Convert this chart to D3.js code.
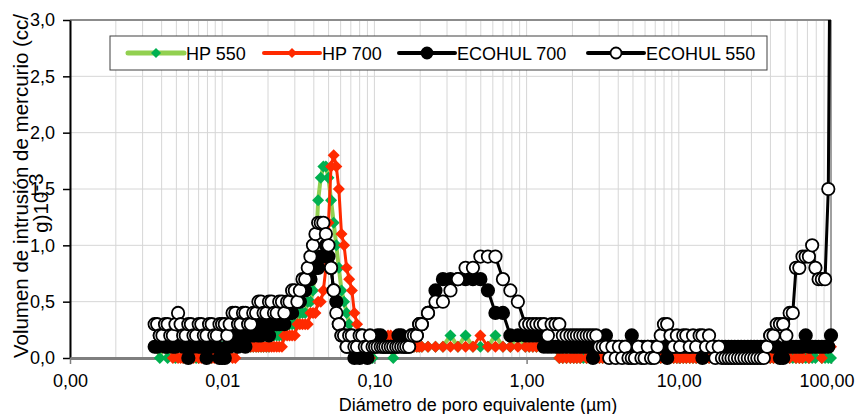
<!DOCTYPE html>
<html>
<head>
<meta charset="utf-8">
<script src="https://cdn.jsdelivr.net/npm/d3@7"></script>
<style>
  body { margin: 0; background: #fff; }
  svg text { font-family: "Liberation Sans", Arial, sans-serif; fill: #000; }
</style>
</head>
<body>
<div id="chart"></div>
<script>
// Pore diameters (µm), shared by all four samples
const diameters = [
    0.0036, 0.00374, 0.00389, 0.00405, 0.00421, 0.00438, 0.00456, 0.00474, 0.00493, 0.00513,
    0.00533, 0.00554, 0.00576, 0.00599, 0.00623, 0.00648, 0.00674, 0.00701, 0.00729, 0.00758,
    0.00789, 0.00820, 0.00853, 0.00887, 0.00923, 0.00960, 0.00998,
    0.0104, 0.0108, 0.0112, 0.0117, 0.0122, 0.0127, 0.0132, 0.0137, 0.0142, 0.0148,
    0.0154, 0.0160, 0.0167, 0.0173, 0.0180, 0.0187, 0.0195, 0.0203, 0.0211, 0.0219,
    0.0228, 0.0237, 0.0247, 0.0256, 0.0267, 0.0277, 0.0288, 0.0300, 0.0312, 0.0324,
    0.0337, 0.0351, 0.0365, 0.0380, 0.0395, 0.0410, 0.0427, 0.0444, 0.0462, 0.0480,
    0.0499, 0.0519, 0.0540, 0.0562, 0.0584, 0.0608, 0.0632, 0.0657, 0.0683, 0.0711,
    0.0739, 0.0769, 0.0800, 0.0832, 0.0865, 0.0900, 0.0936, 0.0973,
    0.101, 0.105, 0.110, 0.114, 0.118, 0.123, 0.128, 0.133, 0.139, 0.144,
    0.150, 0.156, 0.162, 0.169, 0.175, 0.182, 0.190, 0.197, 0.205,
    0.225, 0.252, 0.282, 0.316, 0.354, 0.397, 0.444, 0.497, 0.557, 0.624,
    0.699, 0.782, 0.876, 0.981,
    1.04, 1.10, 1.16, 1.23, 1.30, 1.38, 1.46, 1.55, 1.64, 1.73, 1.83, 1.94,
    2.04, 2.14, 2.25, 2.36, 2.48, 2.60, 2.73, 2.87, 3.01, 3.16,
    3.32, 3.49, 3.66, 3.85, 4.04, 4.24, 4.45, 4.67, 4.91, 5.15,
    5.41, 5.68, 5.96, 6.26, 6.57, 6.90, 7.25, 7.61, 7.99, 8.39,
    8.81, 9.25, 9.71, 10.2, 10.7, 11.2, 11.8, 12.4, 13.0, 13.7,
    14.3, 15.1, 15.8, 16.6, 17.4, 18.3, 19.2, 20.2, 21.2, 22.2,
    23.3, 24.5, 25.7, 27.0, 28.4, 29.8, 31.3, 32.8, 34.5, 36.2,
    38.0, 39.9, 41.9, 44.0, 46.2, 48.5, 50.9, 53.5, 56.1, 58.9,
    61.9, 65.0, 68.2, 71.6, 75.2, 79.0, 82.9, 87.1, 91.4, 96.0,
    100
];

const hp550 = [
    0.1, 0.1, 0.0, 0.1, 0.1, 0.0, 0.1, 0.1, 0.0, 0.1,
    0.1, 0.0, 0.0, 0.1, 0.0, 0.1, 0.0, 0.0, 0.1, 0.0,
    0.0, 0.1, 0.0, 0.1, 0.0, 0.0, 0.1,
    0.1, 0.0, 0.1, 0.1, 0.1, 0.1, 0.1, 0.1, 0.1, 0.1,
    0.1, 0.1, 0.1, 0.1, 0.1, 0.1, 0.1, 0.1, 0.2, 0.2,
    0.2, 0.2, 0.2, 0.2, 0.3, 0.3, 0.3, 0.3, 0.3, 0.4,
    0.4, 0.4, 0.5, 0.5, 0.6, 0.9, 1.4, 1.6, 1.7, 1.7,
    1.6, 1.4, 1.2, 1.0, 0.8, 0.6, 0.5, 0.4, 0.3, 0.2,
    0.2, 0.1, 0.1, 0.1, 0.0, 0.0, 0.1, 0.0,
    0.1, 0.1, 0.1, 0.1, 0.1, 0.1, 0.1, 0.0, 0.1, 0.1,
    0.1, 0.1, 0.1, 0.1, 0.1, 0.1, 0.1, 0.1, 0.1,
    0.1, 0.1, 0.1, 0.2, 0.1, 0.2, 0.1, 0.1, 0.1, 0.2,
    0.1, 0.1, 0.2, 0.1,
    0.1, 0.1, 0.1, 0.1, 0.1, 0.1, 0.1, 0.1, 0.0, 0.0, 0.0, 0.0,
    0.0, 0.0, 0.0, 0.0, 0.0, 0.0, 0.0, 0.0, 0.0, 0.0,
    0.0, 0.0, 0.0, 0.0, 0.0, 0.0, 0.0, 0.0, 0.0, 0.0,
    0.0, 0.0, 0.0, 0.0, 0.0, 0.0, 0.0, 0.0, 0.0, 0.0,
    0.0, 0.0, 0.0, 0.0, 0.0, 0.0, 0.0, 0.0, 0.0, 0.0,
    0.0, 0.0, 0.0, 0.0, 0.0, 0.0, 0.0, 0.0, 0.0, 0.0,
    0.0, 0.0, 0.0, 0.0, 0.0, 0.0, 0.0, 0.0, 0.0, 0.0,
    0.0, 0.0, 0.0, 0.0, 0.0, 0.0, 0.0, 0.0, 0.0, 0.0,
    0.0, 0.0, 0.0, 0.0, 0.0, 0.0, 0.1, 0.0, 0.0, 0.0,
    0.0
];

const hp700 = [
    0.1, 0.1, 0.1, 0.1, 0.1, 0.1, 0.1, 0.0, 0.1, 0.0,
    0.0, 0.0, 0.1, 0.0, 0.0, 0.0, 0.1, 0.0, 0.0, 0.0,
    0.1, 0.0, 0.0, 0.0, 0.1, 0.0, 0.0,
    0.0, 0.0, 0.1, 0.0, 0.0, 0.1, 0.1, 0.1, 0.1, 0.1,
    0.1, 0.1, 0.1, 0.1, 0.1, 0.1, 0.1, 0.1, 0.1, 0.1,
    0.1, 0.1, 0.1, 0.2, 0.2, 0.2, 0.2, 0.2, 0.3, 0.3,
    0.3, 0.3, 0.3, 0.4, 0.4, 0.4, 0.5, 0.5, 0.6, 0.8,
    1.2, 1.7, 1.8, 1.7, 1.5, 1.1, 1.0, 0.8, 0.7, 0.6,
    0.4, 0.3, 0.2, 0.1, 0.1, 0.1, 0.0, 0.1,
    0.1, 0.1, 0.1, 0.1, 0.1, 0.2, 0.2, 0.1, 0.1, 0.1,
    0.1, 0.1, 0.1, 0.1, 0.1, 0.1, 0.1, 0.1, 0.1,
    0.1, 0.1, 0.1, 0.1, 0.1, 0.1, 0.1, 0.2, 0.1, 0.1,
    0.1, 0.1, 0.1, 0.1,
    0.1, 0.1, 0.1, 0.1, 0.1, 0.1, 0.1, 0.1, 0.0, 0.0, 0.0, 0.0,
    0.0, 0.0, 0.0, 0.1, 0.0, 0.0, 0.0, 0.0, 0.0, 0.0,
    0.0, 0.0, 0.0, 0.0, 0.0, 0.0, 0.0, 0.0, 0.0, 0.0,
    0.0, 0.0, 0.0, 0.0, 0.0, 0.0, 0.0, 0.0, 0.0, 0.0,
    0.0, 0.0, 0.0, 0.0, 0.0, 0.0, 0.0, 0.0, 0.0, 0.0,
    0.0, 0.0, 0.0, 0.0, 0.0, 0.0, 0.0, 0.0, 0.0, 0.0,
    0.0, 0.0, 0.0, 0.0, 0.0, 0.0, 0.0, 0.0, 0.0, 0.0,
    0.0, 0.0, 0.0, 0.0, 0.0, 0.0, 0.1, 0.0, 0.1, 0.0,
    0.0, 0.0, 0.1, 0.0, 0.1, 0.1, 0.1, 0.0, 0.1, 0.1,
    0.1
];

const ecohul700 = [
    0.1, 0.1, 0.2, 0.2, 0.1, 0.1, 0.2, 0.1, 0.1, 0.2,
    0.2, 0.1, 0.1, 0.0, 0.1, 0.1, 0.2, 0.1, 0.1, 0.1,
    0.0, 0.1, 0.1, 0.2, 0.1, 0.0, 0.0,
    0.0, 0.1, 0.1, 0.2, 0.2, 0.1, 0.2, 0.2, 0.1, 0.2,
    0.2, 0.2, 0.3, 0.2, 0.2, 0.3, 0.3, 0.2, 0.3, 0.3,
    0.3, 0.3, 0.4, 0.3, 0.4, 0.4, 0.4, 0.5, 0.5, 0.5,
    0.6, 0.6, 0.7, 0.7, 0.8, 0.8, 0.8, 0.9, 0.9, 1.0,
    0.9, 0.8, 0.6, 0.5, 0.3, 0.2, 0.2, 0.1, 0.1, 0.1,
    0.0, 0.1, 0.0, 0.1, 0.1, 0.0, 0.1, 0.1,
    0.1, 0.2, 0.2, 0.1, 0.1, 0.1, 0.1, 0.1, 0.1, 0.2,
    0.2, 0.1, 0.1, 0.1, 0.2, 0.2, 0.2, 0.3, 0.3,
    0.4, 0.6, 0.7, 0.7, 0.7, 0.7, 0.7, 0.7, 0.6, 0.4,
    0.4, 0.2, 0.2, 0.2,
    0.2, 0.2, 0.2, 0.2, 0.1, 0.1, 0.1, 0.1, 0.1, 0.1, 0.1, 0.1,
    0.1, 0.1, 0.1, 0.1, 0.1, 0.1, 0.0, 0.1, 0.1, 0.1,
    0.2, 0.1, 0.1, 0.1, 0.1, 0.1, 0.1, 0.1, 0.2, 0.1,
    0.1, 0.1, 0.1, 0.1, 0.1, 0.1, 0.1, 0.1, 0.1, 0.0,
    0.1, 0.1, 0.1, 0.1, 0.1, 0.1, 0.1, 0.1, 0.1, 0.1,
    0.0, 0.1, 0.1, 0.1, 0.1, 0.1, 0.1, 0.1, 0.1, 0.1,
    0.1, 0.1, 0.1, 0.1, 0.1, 0.1, 0.1, 0.1, 0.1, 0.1,
    0.1, 0.2, 0.1, 0.1, 0.0, 0.0, 0.1, 0.1, 0.1, 0.1,
    0.1, 0.1, 0.2, 0.1, 0.1, 0.1, 0.1, 0.1, 0.1, 0.1,
    0.2
];

const ecohul550 = [
    0.3, 0.3, 0.2, 0.2, 0.3, 0.3, 0.2, 0.2, 0.3, 0.4,
    0.3, 0.2, 0.2, 0.3, 0.3, 0.2, 0.2, 0.3, 0.3, 0.2,
    0.2, 0.3, 0.3, 0.2, 0.2, 0.3, 0.3,
    0.3, 0.2, 0.3, 0.4, 0.4, 0.3, 0.3, 0.4, 0.4, 0.3,
    0.3, 0.4, 0.4, 0.5, 0.5, 0.4, 0.4, 0.5, 0.5, 0.4,
    0.4, 0.5, 0.5, 0.4, 0.5, 0.5, 0.6, 0.6, 0.5, 0.6,
    0.7, 0.7, 0.8, 0.9, 1.0, 1.1, 1.2, 1.2, 1.2, 1.1,
    1.0, 0.8, 0.6, 0.4, 0.3, 0.2, 0.2, 0.1, 0.2, 0.2,
    0.1, 0.1, 0.2, 0.2, 0.1, 0.1, 0.2, 0.1,
    0.1, 0.1, 0.1, 0.1, 0.1, 0.1, 0.1, 0.1, 0.1, 0.1,
    0.1, 0.1, 0.1, 0.1, 0.2, 0.2, 0.2, 0.3, 0.3,
    0.4, 0.5, 0.5, 0.6, 0.7, 0.8, 0.8, 0.9, 0.9, 0.9,
    0.7, 0.6, 0.5, 0.3,
    0.3, 0.3, 0.3, 0.3, 0.3, 0.2, 0.3, 0.3, 0.3, 0.2, 0.2, 0.2,
    0.2, 0.2, 0.2, 0.2, 0.2, 0.2, 0.2, 0.2, 0.1, 0.1,
    0.1, 0.0, 0.1, 0.0, 0.1, 0.0, 0.1, 0.0, 0.0, 0.0,
    0.1, 0.0, 0.0, 0.1, 0.0, 0.0, 0.1, 0.2, 0.3, 0.3,
    0.2, 0.1, 0.2, 0.1, 0.2, 0.2, 0.1, 0.2, 0.1, 0.2,
    0.2, 0.1, 0.2, 0.1, 0.0, 0.1, 0.0, 0.0, 0.0, 0.0,
    0.0, 0.0, 0.0, 0.0, 0.0, 0.0, 0.0, 0.0, 0.0, 0.0,
    0.1, 0.2, 0.2, 0.3, 0.3, 0.3, 0.2, 0.4, 0.4, 0.8,
    0.8, 0.9, 0.9, 0.9, 1.0, 0.8, 0.7, 0.7, 0.7, 1.5,
    5.0
];

const seriesNames = ["HP 550", "HP 700", "ECOHUL 700", "ECOHUL 550"];
const seriesValues = [hp550, hp700, ecohul700, ecohul550];

const xTickValues = [0.001, 0.01, 0.1, 1, 10, 100];
const xTickLabels = ["0,00", "0,01", "0,10", "1,00", "10,00", "100,00"];
const yTickValues = [0, 0.5, 1, 1.5, 2, 2.5, 3];

const xTitle = "Diámetro de poro equivalente (µm)";
const yTitle = ["Volumen de intrusión de mercurio (cc/", "g)10", "-3"];

// Look of each series, same order as the names
const seriesStyles = [
    {line: "#92D050", lineWidth: 4, marker: "diamond", fill: "#00B050", stroke: "#00B050"},
    {line: "#FF2A00", lineWidth: 3, marker: "diamond", fill: "#FF2A00", stroke: "#FF2A00"},
    {line: "#000000", lineWidth: 3, marker: "circle", fill: "#000000", stroke: "#000000"},
    {line: "#000000", lineWidth: 3, marker: "circle", fill: "#FFFFFF", stroke: "#000000"}
];

seriesValues.forEach((v, i) => {
    if (v.length !== diameters.length) console.error(seriesNames[i], v.length, diameters.length);
});

const W = 856, H = 414;
const plot = {left: 70, right: 831, top: 20, bottom: 358};

const x = d3.scaleLog().domain([0.001, 100]).range([plot.left, plot.right]);
const y = d3.scaleLinear().domain([0, 3]).range([plot.bottom, plot.top]);

const svg = d3.select("#chart").append("svg")
    .attr("width", W)
    .attr("height", H);

// Gridlines: every 1..9 step of each decade, and every 0.5 on y
let vGrid = [];
xTickValues.slice(0, -1).forEach(d => {
    for (let m = 1; m <= 9; m++) vGrid.push(d * m);
});

svg.append("g").selectAll("line")
    .data(vGrid)
    .join("line")
    .attr("x1", d => x(d)).attr("x2", d => x(d))
    .attr("y1", plot.top).attr("y2", plot.bottom)
    .attr("stroke", "#d6d6d6")
    .attr("stroke-width", 1);

svg.append("g").selectAll("line")
    .data(yTickValues.slice(1, -1))
    .join("line")
    .attr("x1", plot.left).attr("x2", plot.right)
    .attr("y1", d => y(d)).attr("y2", d => y(d))
    .attr("stroke", "#d6d6d6")
    .attr("stroke-width", 1);

// Top and right frame
svg.append("line")
    .attr("x1", plot.left).attr("x2", plot.right)
    .attr("y1", plot.top).attr("y2", plot.top)
    .attr("stroke", "#8c8c8c").attr("stroke-width", 2);
svg.append("line")
    .attr("x1", plot.right).attr("x2", plot.right)
    .attr("y1", plot.top).attr("y2", plot.bottom)
    .attr("stroke", "#a0a0a0").attr("stroke-width", 2);

// Axes
const yAxis = d3.axisLeft(y)
    .tickValues(yTickValues)
    .tickFormat(d => d.toFixed(1).replace(".", ","))
    .tickSize(7)
    .tickSizeOuter(0)
    .tickPadding(8);

const yAxisG = svg.append("g")
    .attr("transform", `translate(${plot.left},0)`)
    .call(yAxis);
yAxisG.select(".domain").attr("stroke", "#000").attr("stroke-width", 2);
yAxisG.selectAll(".tick line").attr("stroke", "#000").attr("stroke-width", 1.5);
yAxisG.selectAll("text").style("font-size", "18px").attr("fill", "#000");

const xAxis = d3.axisBottom(x)
    .tickValues(xTickValues)
    .tickFormat((d, i) => xTickLabels[i])
    .tickSize(6)
    .tickSizeOuter(0)
    .tickPadding(10);

const xAxisG = svg.append("g")
    .attr("transform", `translate(0,${plot.bottom})`)
    .call(xAxis);
xAxisG.select(".domain").attr("stroke", "#7f7f7f").attr("stroke-width", 3);
xAxisG.selectAll(".tick line").attr("stroke", "#7f7f7f").attr("stroke-width", 1.5);
xAxisG.selectAll("text").style("font-size", "18px").attr("fill", "#000");
// keep the last label inside the page
xAxisG.selectAll(".tick text")
    .filter(d => d === 100)
    .attr("text-anchor", "end")
    .attr("x", W - 2 - plot.right);

// Axis titles
svg.append("text")
    .attr("x", 478).attr("y", 411)
    .attr("text-anchor", "middle")
    .style("font-size", "18px")
    .text(xTitle);

svg.append("text")
    .attr("transform", "translate(28,186) rotate(-90)")
    .attr("text-anchor", "middle")
    .style("font-size", "20.5px")
    .text(yTitle[0]);

const yTitle2 = svg.append("text")
    .attr("transform", "translate(48,203) rotate(-90)")
    .attr("text-anchor", "middle")
    .style("font-size", "20.5px");
yTitle2.append("tspan").text(yTitle[1]);
yTitle2.append("tspan").attr("dy", -5).text(yTitle[2]);

// Series
svg.append("defs").append("clipPath")
    .attr("id", "plot-clip")
    .append("rect")
    .attr("x", 0).attr("y", plot.top)
    .attr("width", W).attr("height", H - plot.top);

const diamond = r => `M0,${-r}L${r},0L0,${r}L${-r},0Z`;

const line = d3.line()
    .x(d => x(d.d))
    .y(d => y(d.v));

seriesValues.forEach((values, i) => {
    const st = seriesStyles[i];
    const pts = diameters.map((d, j) => ({d: d, v: values[j]}));
    const g = svg.append("g").attr("class", "series");

    g.append("path")
        .datum(pts)
        .attr("clip-path", "url(#plot-clip)")
        .attr("fill", "none")
        .attr("stroke", st.line)
        .attr("stroke-width", st.lineWidth)
        .attr("stroke-linejoin", "round")
        .attr("d", line);

    const shown = pts.filter(p => p.v <= 3);
    if (st.marker === "diamond") {
        g.selectAll("path.mk")
            .data(shown)
            .join("path")
            .attr("class", "mk")
            .attr("transform", p => `translate(${x(p.d)},${y(p.v)})`)
            .attr("d", diamond(6))
            .attr("fill", st.fill);
    } else {
        g.selectAll("circle")
            .data(shown)
            .join("circle")
            .attr("cx", p => x(p.d))
            .attr("cy", p => y(p.v))
            .attr("r", 6.2)
            .attr("fill", st.fill)
            .attr("stroke", st.stroke)
            .attr("stroke-width", 1.8);
    }
});

// Legend
const legendBox = {x: 110, y: 36, w: 657, h: 34};
const legendItemX = [128, 264, 399, 588];
const legendLineLen = 56;

const legend = svg.append("g");
legend.append("rect")
    .attr("x", legendBox.x).attr("y", legendBox.y)
    .attr("width", legendBox.w).attr("height", legendBox.h)
    .attr("fill", "#fff")
    .attr("stroke", "#404040")
    .attr("stroke-width", 1);

const ly = legendBox.y + legendBox.h / 2;
seriesNames.forEach((name, i) => {
    const st = seriesStyles[i];
    const lx = legendItemX[i];
    legend.append("line")
        .attr("x1", lx).attr("x2", lx + legendLineLen)
        .attr("y1", ly).attr("y2", ly)
        .attr("stroke", st.line)
        .attr("stroke-width", st.lineWidth + 1)
        .attr("stroke-linecap", "round");
    if (st.marker === "diamond") {
        legend.append("path")
            .attr("transform", `translate(${lx + legendLineLen / 2},${ly})`)
            .attr("d", diamond(5))
            .attr("fill", st.fill);
    } else {
        legend.append("circle")
            .attr("cx", lx + legendLineLen / 2).attr("cy", ly)
            .attr("r", 5.5)
            .attr("fill", st.fill)
            .attr("stroke", st.stroke)
            .attr("stroke-width", 1.8);
    }
    legend.append("text")
        .attr("x", lx + legendLineLen + 2)
        .attr("y", ly + 6.5)
        .style("font-size", "18px")
        .text(name);
});
</script>
</body>
</html>
